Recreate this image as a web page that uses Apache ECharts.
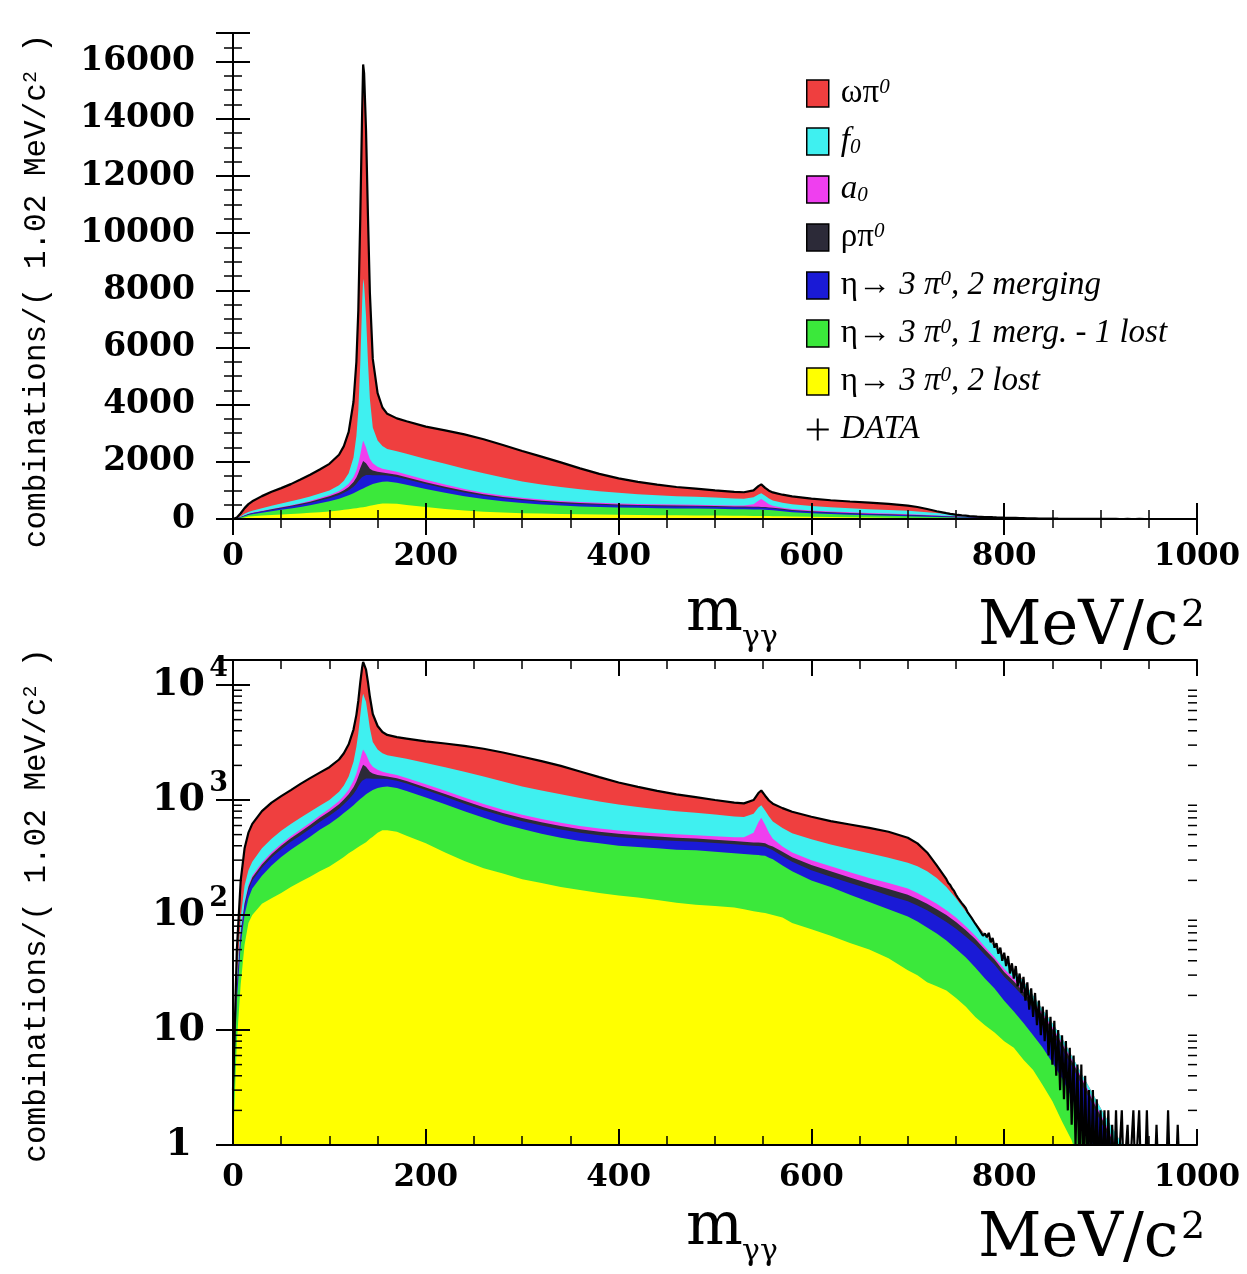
<!DOCTYPE html>
<html><head><meta charset="utf-8">
<script src="https://cdn.jsdelivr.net/npm/echarts@6/dist/echarts.min.js"></script>
<style>html,body{margin:0;padding:0;background:#fff}#c{width:1247px;height:1274px}</style>
</head><body><div id="c"></div>
<script>
// ---- data (cumulative stack levels, as drawn by a ROOT THStack) ----
const massX = [0,4,8,12,16,20, 30,40,50,60,70,80,90,100,
 110,115,120,125,128,130,132,134,135,136,138,140,142,145,150,155,160,
 170,180,
 200,220,240,260,280,300,320,340,360,380,400,420,440,460,480,500,520,
 530,540,545,548,552,556,560, 570,580, 600,620,640,660,680,700,
 710,720,730,740,750,760,770,780,790,800,810,820,830,840,850,860,870,880,890,900,910,920,930,940,950,960,
 980,1000];
// red top = total MC
const cumOmegaPi = [3,50,200,380,520,620, 800,950,1080,1220,1380,1550,1730,1930,
 2250,2550,3050,4100,5500,7300,10500,14300,15800,15500,13600,10600,7900,5600,4400,3900,3680,
 3520,3420,
 3230,3100,2960,2790,2590,2380,2180,1980,1770,1580,1420,1300,1200,1120,1060,1000,950,
 935,1000,1150,1200,1090,990,930, 850,790, 715,655,612,572,530,470,
 420,350,270,200,150,112,86,68,54,43,34,27,20,15,11.5,8.5,6,4.2,3,2.1,1.5,1.1,0.8,0.55,0.4,0.3,
 0.15,0.08];
const cumF0 = [2,28,95,180,245,290, 380,460,540,620,700,790,890,1000,
 1180,1340,1600,2150,2900,3800,5400,7600,8400,8200,7100,5500,4200,3200,2750,2550,2450,
 2370,2280,
 2100,1930,1760,1600,1450,1310,1210,1120,1040,970,915,870,830,800,775,750,720,
 710,760,860,900,810,720,650, 570,515, 455,410,375,345,315,285,
 265,240,210,175,140,108,84,67,53,42,33.5,26.5,20,15,11.5,8.5,6,4.2,3,2.1,1.5,1.1,0.8,0.55,0.4,0.3,
 0.15,0.08];
const cumA0 = [2,25,73,130,182,220, 286,352,417,485,553,635,735,840,
 980,1090,1230,1470,1700,1950,2250,2600,2750,2700,2500,2280,2100,1950,1830,1760,1720,
 1650,1555,
 1370,1205,1050,922,822,745,684,633,594,566,543,528,515,503,495,485,475,
 475,520,640,700,610,520,460, 395,350, 300,265,235,210,190,170,
 155,140,125,110,95,80,66,53,43,34,28,22.5,17.8,13.9,10.6,7.8,5.6,3.95,2.7,1.87,1.25,0.86,0.57,0.38,0.26,0.18,
 0.08,0.045];
const cumRhoPi = [2,24,70,125,175,212, 275,338,400,465,530,607,700,795,
 920,1010,1120,1290,1450,1600,1780,1950,2030,2020,1950,1850,1760,1700,1650,1625,1600,
 1545,1460,
 1285,1130,985,865,770,698,640,593,556,530,508,494,481,470,462,452,440,
 434,428,426,424,420,405,395, 355,318, 272,240,212,188,168,150,
 138,125,112,100,87,74,62,50,41,32,26.5,21.5,17,13.3,10.2,7.5,5.4,3.8,2.6,1.8,1.2,0.83,0.55,0.37,0.25,0.17,
 0.08,0.045];
const cumEta2Merg = [2,22,65,118,165,200, 258,316,374,433,492,562,645,730,
 840,920,1010,1130,1230,1320,1400,1470,1500,1520,1540,1540,1540,1530,1530,1530,1520,
 1470,1390,
 1220,1070,930,815,725,655,600,555,520,495,475,462,450,440,433,423,412,
 406,400,398,396,392,378,365, 325,290, 245,215,190,168,148,132,
 121,110,98,87,76,65,55,45,37,29,24,19.5,15.5,12,9.2,6.8,4.9,3.4,2.4,1.6,1.1,0.75,0.5,0.33,0.22,0.15,
 0.07,0.04];
const cumEta1Merg1Lost = [2,18,55,100,140,170, 220,270,320,370,420,480,550,620,
 710,770,830,900,950,985,1020,1050,1070,1090,1120,1150,1180,1220,1270,1300,1310,
 1270,1200,
 1050,920,800,700,620,560,510,470,440,420,400,390,380,370,365,355,345,
 340,335,333,330,327,315,305, 270,240, 200,175,150,130,112,97,
 88,78,69,60,51,43,35,28,23,18,14.5,11.5,9,7,5.2,3.8,2.6,1.7,1.1,0.7,0.45,0.3,0.2,0.12,0.08,0.05,
 0.03,0.02];
const cumEta2Lost = [1,8,25,55,85,100, 125,140,155,175,195,215,240,264,
 300,320,345,365,380,390,400,410,415,420,430,445,460,480,520,545,545,
 530,490,
 420,350,295,255,230,205,190,175,165,155,148,142,135,128,123,120,116,
 112,108,106,105,104,102,100, 95,85, 75,66,57,50,42,33,
 30,26,24,22,19,16,13,11,9.5,8,7,5.5,4.5,3.3,2.4,1.6,1.1,0.6,0.35,0.2,0.1,0.05,0.03,0.02,0.01,0.01,
 0.01,0.01];
// DATA (measured spectrum, noisy tail read bin by bin)
const dataX = [0,4,8,12,16,20, 30,40,50,60,70,80,90,100,
 110,115,120,125,128,130,132,134,135,136,138,140,142,145,150,155,160,
 170,180,
 200,220,240,260,280,300,320,340,360,380,400,420,440,460,480,500,520,
 530,540,545,548,552,556,560, 570,580, 600,620,640,660,680,700, 710,720,730,
 740,742,744,746,748,750,752,754,756,758, 760,762,764,766,768,770,772,774,776,778,
 780,782,784,786,788,790,792,794,796,798, 800,802,804,806,808,810,812,814,816,818,
 820,822,824,826,828,830,832,834,836,838, 840,842,844,846,848,850,852,854,856,858,
 860,862,864,866,868,870,872,874,876,878, 880,882,884,886,888,890,892,894,896,898,
 900,902,904,906,908,910,912,914,916,918, 920,922,924,926,928,930,932,934,936,938,
 940,942, 946,948,950,956,958,960,968,970,972,978,980,982,1000];
const dataY = [3,50,200,380,520,620, 800,950,1080,1220,1380,1550,1730,1930,
 2250,2550,3050,4100,5500,7300,10500,14300,15900,15600,13600,10600,7900,5600,4400,3900,3680,
 3520,3420,
 3230,3100,2960,2790,2590,2380,2180,1980,1770,1580,1420,1300,1200,1120,1060,1000,950,
 935,1000,1150,1210,1090,990,930, 850,790, 715,655,612,572,530,470, 420,350,270,
 205,190,182,170,162,150,141,136,127,121, 115,106,103,95,94,84,83,75,77,66,
 69,64,70,58,63,52,57,46,52,40, 47,36,44,31,38,28,36,24,31,21,
 29,18,26,15,23,13,21,11,18,9, 16,8,15,6,13,5,12,4,10,3,
 9,2.5,8,2,7,1.5,6,1,5,0.5, 5,0.5,4,0.5,3,0.5,3,0.5,2.5,0.5,
 2,0.5,2,0.5,2,0.5,1.5,0.5,2,0.5, 0.5,2,0.5,0.5,1.5,0.5,0.5,2,0.5,0.5,
 2,0.5, 0.5,2,0.5,0.5,1.5,0.5,0.5,2,0.5,0.5,1.5,0.5,0.5];
// axis ticks / labels
const linTicks = [0,2000,4000,6000,8000,10000,12000,14000,16000];
const massTicks = [0,200,400,600,800,1000];
const logTicks = [1,10,100,1000,10000];
const logMinorTicks = [2,3,4,5,6,7,8,9,20,30,40,50,60,70,80,90,200,300,400,500,600,700,800,900,
 2000,3000,4000,5000,6000,7000,8000,9000];

const layers = [
 {name:'ωπ0', color:'#ef3f3f', vals:cumOmegaPi},
 {name:'f0', color:'#3ff0f0', vals:cumF0},
 {name:'a0', color:'#ef3fef', vals:cumA0},
 {name:'ρπ0', color:'#2c2a38', vals:cumRhoPi},
 {name:'η→ 3π0, 2 merging', color:'#1a1ad6', vals:cumEta2Merg},
 {name:'η→ 3π0, 1 merg. - 1 lost', color:'#3be83b', vals:cumEta1Merg1Lost},
 {name:'η→ 3π0, 2 lost', color:'#ffff00', vals:cumEta2Lost}
];

const AXF = 'DejaVu Serif';
const tickLine = {color:'#000', width:2};
function xAxisDef(grid, pos, showLabel, margin){
  return {gridIndex:grid, type:'value', position:pos, min:0, max:1000, interval:200, z:10,
    axisLine:{show:true, lineStyle:{color:'#000', width:2}},
    axisTick:{show:true, inside:true, length:16, lineStyle:tickLine},
    minorTick:{show:true, splitNumber:4, length:9, lineStyle:{color:'#000', width:1.5}},
    splitLine:{show:false}, minorSplitLine:{show:false},
    axisLabel:{show:showLabel, margin:margin, fontFamily:AXF, fontWeight:'bold', fontSize:31, color:'#000',
      formatter:v => massTicks.includes(v) ? String(v) : ''}};
}
const yTitle = 'combinations/( 1.02 MeV/c{s|2} )';
function yTitleStyle(padEnd){
  return {fontFamily:'Liberation Mono', fontSize:31, color:'#000', padding:[0, padEnd, 0, 0],
    rich:{s:{fontFamily:'Liberation Mono', fontSize:20, color:'#000', verticalAlign:'top', lineHeight:14}}};
}

function linY(pos, show){
  return {gridIndex:0, type:'value', position:pos, min:0, max:17000, interval:2000, z:10,
    name: show ? yTitle : '', nameLocation:'middle', nameRotate:90, nameGap:181, nameTextStyle:yTitleStyle(30),
    axisLine:{show:true, lineStyle:{color:'#000', width:2}},
    axisTick:{show:true, inside:true, length:17, lineStyle:tickLine},
    minorTick:{show:true, splitNumber:4, length:9, lineStyle:{color:'#000', width:1.5}},
    splitLine:{show:false},
    axisLabel:{show:show, margin:38, fontFamily:AXF, fontWeight:'bold', fontSize:33, color:'#000',
      formatter:v => linTicks.includes(v) ? String(v) : ''}};
}
function logY(pos, show){
  return {gridIndex:1, type:'log', logBase:10, position:pos, min:1, max:16500, z:10,
    name: show ? yTitle : '', nameLocation:'middle', nameRotate:90, nameGap:181, nameTextStyle:yTitleStyle(6),
    axisLine:{show:true, lineStyle:{color:'#000', width:2}},
    axisTick:{show:true, inside:true, length:17, lineStyle:tickLine},
    splitLine:{show:false},
    axisLabel:{show:show, margin:5, color:'#000',
      formatter:v => {
        const t = logTicks.find(p => Math.abs(p - v) / p < 1e-6);
        if (t === undefined) return '';
        const e = Math.round(Math.log10(t));
        if (e === 0) return '{b|1}{e1|}';
        if (e === 1) return '{b|10}{e|}';
        return '{b|10}{s|' + e + '}';
      },
      rich:{
        b:{fontFamily:AXF, fontWeight:'bold', fontSize:38, color:'#000', lineHeight:38, verticalAlign:'middle'},
        s:{fontFamily:AXF, fontWeight:'bold', fontSize:27, color:'#000', width:23, align:'right', lineHeight:27,
           padding:[0,0,32,0], verticalAlign:'middle'},
        e:{width:23},
        e1:{width:36}
      }}};
}

const series = [];
[0,1].forEach(p => {
  layers.forEach(L => {
    series.push({type:'line', name:L.name, xAxisIndex:p*2, yAxisIndex:p*2, color:L.color,
      data: massX.map((x,i) => [x, L.vals[i]]),
      symbol:'none', showSymbol:false, silent:true, animation:false, z:2,
      lineStyle:{width:0, color:L.color}, itemStyle:{color:L.color},
      areaStyle:{color:L.color, opacity:1, origin:'start'}});
  });
  series.push({type:'line', name:'DATA', xAxisIndex:p*2, yAxisIndex:p*2, color:'#000',
    data: dataX.map((x,i) => [x, dataY[i]]),
    symbol:'none', showSymbol:false, silent:true, animation:false, z:4,
    lineStyle:{width:2.2, color:'#000'}});
});
series.push({type:'custom', name:'minorLogTicks', xAxisIndex:2, yAxisIndex:2, silent:true, animation:false, z:12,
  data: logMinorTicks.map(v => [0, v]),
  renderItem:(params, api) => {
    const v = api.value(1);
    const pL = api.coord([0, v]);
    const pR = api.coord([1000, v]);
    return {type:'group', children:[
      {type:'line', shape:{x1:pL[0], y1:pL[1], x2:pL[0]+9, y2:pL[1]}, style:{stroke:'#000', lineWidth:1.5}},
      {type:'line', shape:{x1:pR[0], y1:pR[1], x2:pR[0]-9, y2:pR[1]}, style:{stroke:'#000', lineWidth:1.5}}
    ]};
  }});

const legendText = {
  'ωπ0':'{sp|}{n|ωπ}{s|0}',
  'f0':'{sp|}{i|f}{sub|0}',
  'a0':'{sp|}{i|a}{sub|0}',
  'ρπ0':'{sp|}{n|ρπ}{s|0}',
  'η→ 3π0, 2 merging':'{sp|}{n|η→ }{i|3 π}{s|0}{i|, 2 merging}',
  'η→ 3π0, 1 merg. - 1 lost':'{sp|}{n|η→ }{i|3 π}{s|0}{i|, 1 merg. - 1 lost}',
  'η→ 3π0, 2 lost':'{sp|}{n|η→ }{i|3 π}{s|0}{i|, 2 lost}',
  'DATA':'{sp|}{i|DATA}'
};
const LF = 'Liberation Serif';
const legendData = layers.map(L => ({name:L.name, icon:'rect', itemStyle:{borderColor:'#000', borderWidth:1.5}}));
legendData.push({name:'DATA', icon:'path://M10,0L12,0L12,10L22,10L22,12L12,12L12,22L10,22L10,12L0,12L0,10L10,10Z', itemStyle:{color:'#000', borderWidth:0}});

function txt(x, y, s, size){
  return {type:'text', x:x, y:y, silent:true, z:20,
    style:{text:s, font: size + 'px "DejaVu Serif"', fill:'#000', align:'left', verticalAlign:'middle',
      textAlign:'left', textVerticalAlign:'middle'}};
}

const option = {
  backgroundColor:'#fff',
  animation:false,
  grid:[
    {left:233, top:33, width:964, height:486, containLabel:false},
    {left:233, top:660, width:964, height:485, containLabel:false}
  ],
  xAxis:[xAxisDef(0,'bottom',true,22), xAxisDef(0,'top',false,0), xAxisDef(1,'bottom',true,17), xAxisDef(1,'top',false,0)],
  yAxis:[linY('left',true), linY('right',false), logY('left',true), logY('right',false)],
  legend:{show:true, left:806, top:77, orient:'vertical', padding:0, itemWidth:22, itemHeight:27, itemGap:15,
    selectedMode:false, data:legendData,
    formatter:n => legendText[n] || n,
    textStyle:{color:'#000', fontFamily:LF, fontSize:33,
      rich:{
        sp:{width:7},
        n:{fontFamily:LF, fontSize:33, color:'#000', lineHeight:27},
        i:{fontFamily:LF, fontStyle:'italic', fontSize:33, color:'#000', lineHeight:27},
        s:{fontFamily:LF, fontStyle:'italic', fontSize:21, color:'#000', lineHeight:14, verticalAlign:'top'},
        sub:{fontFamily:LF, fontStyle:'italic', fontSize:21, color:'#000', lineHeight:14, verticalAlign:'bottom'}
      }}},
  graphic:[
    txt(686, 614, 'm', 60), txt(742, 638, 'γγ', 30),
    txt(978, 628, 'MeV/c', 62), txt(1181, 616, '2', 38),
    txt(686, 1228, 'm', 60), txt(742, 1252, 'γγ', 30),
    txt(978, 1240, 'MeV/c', 62), txt(1181, 1228, '2', 38)
  ],
  series: series
};
const chart = echarts.init(document.getElementById('c'));
chart.setOption(option);
</script>
</body></html>
